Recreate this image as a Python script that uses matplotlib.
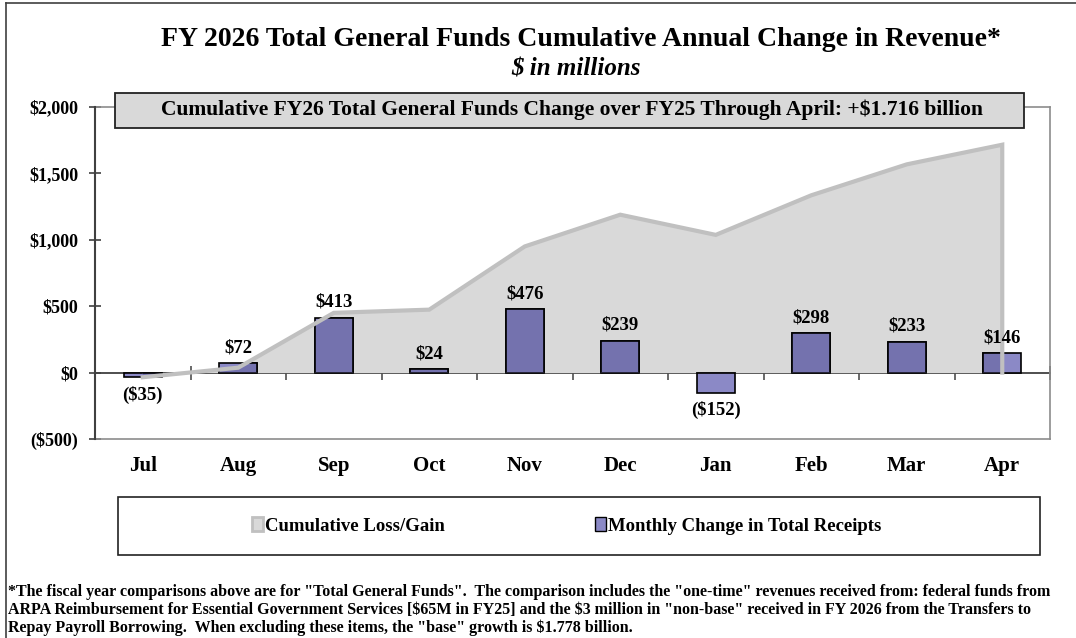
import numpy as np
import matplotlib
matplotlib.use("Agg")
import matplotlib.pyplot as plt
from matplotlib.patches import Rectangle, Patch
from matplotlib.lines import Line2D

# ---- data ----
months = ["Jul", "Aug", "Sep", "Oct", "Nov", "Dec", "Jan", "Feb", "Mar", "Apr"]
monthly_change = [-35, 72, 413, 24, 476, 239, -152, 298, 233, 146]
cumulative = [-35, 37, 450, 474, 950, 1189, 1037, 1335, 1568, 1716]
yticks = [-500, 0, 500, 1000, 1500, 2000]
ytick_labels = ["($500)", "$0", "$500", "$1,000", "$1,500", "$2,000"]

title = "FY 2026 Total General Funds Cumulative Annual Change in Revenue*"
subtitle = "$ in millions"
banner = "Cumulative FY26 Total General Funds Change over FY25 Through April: +$1.716 billion"
footnote = ('*The fiscal year comparisons above are for "Total General Funds".  The comparison includes the "one-time" revenues received from: federal funds from\n'
            'ARPA Reimbursement for Essential Government Services [$65M in FY25] and the $3 million in "non-base" received in FY 2026 from the Transfers to\n'
            'Repay Payroll Borrowing.  When excluding these items, the "base" growth is $1.778 billion.')

plt.rcParams["font.family"] = ["Liberation Serif", "DejaVu Serif"]
plt.rcParams["font.weight"] = "bold"
plt.rcParams["text.parse_math"] = False

W, H = 1076, 638
fig = plt.figure(figsize=(W / 100, H / 100), dpi=100)

def fx(px):
    return px / W

def fy(py):
    return 1 - py / H

ax = fig.add_axes([fx(95), fy(439), fx(1050) - fx(95), fy(107) - fy(439)])
x = np.arange(len(months))

light_bar = "#8B89C6"
dark_bar = "#7472AE"
area_col = "#D9D9D9"
area_line = "#C0C0C0"

# area
area = ax.fill_between(x, cumulative, 0, color=area_col, lw=0, zorder=1)
clip_path = area.get_paths()[0]

# bars (light, outside area; darker where covered by area)
bw = 0.4
ax.bar(x, monthly_change, width=bw, color=light_bar, edgecolor="black", lw=1.2, zorder=2)
dark = ax.bar(x, monthly_change, width=bw, color=dark_bar, edgecolor="black", lw=1.2, zorder=3)
for b in dark:
    b.set_clip_path(clip_path, ax.transData)

# area outline
ax.plot(np.r_[x, x[-1]], np.r_[cumulative, 0], color=area_line, lw=3, zorder=4,
        solid_joinstyle="miter")

# data labels
for xi, v in zip(x, monthly_change):
    lab = f"${v:,}" if v >= 0 else f"(${-v:,})"
    if v >= 0:
        ax.annotate(lab, (xi, v), xytext=(0, 5), textcoords="offset points",
                    ha="center", va="bottom", fontsize=13.5, fontweight="bold", zorder=6)
    else:
        ax.annotate(lab, (xi, v), xytext=(0, -6), textcoords="offset points",
                    ha="center", va="top", fontsize=13.5, fontweight="bold", zorder=6)

ax.set_xlim(-0.5, len(months) - 0.5)
ax.set_ylim(-500, 2000)
ax.set_yticks(yticks)
ax.set_yticklabels(ytick_labels, fontsize=13, fontweight="bold")
ax.tick_params(axis="y", direction="inout", length=8, width=1.2, color="#404040", pad=8)
ax.set_xticks(x)
ax.set_xticklabels(months, fontsize=15, fontweight="bold")
ax.tick_params(axis="x", length=0, pad=12)

for s in ["top", "right", "bottom"]:
    ax.spines[s].set_color("#8C8C8C")
    ax.spines[s].set_linewidth(1.2)
ax.spines["left"].set_color("#404040")
ax.spines["left"].set_linewidth(1.5)
ax.spines["left"].set_zorder(5)

# zero axis with category-boundary ticks
sec = ax.secondary_xaxis(500 / 2500)
sec.set_xticks(np.arange(-0.5, len(months), 1.0))
sec.set_xticklabels([])
sec.tick_params(axis="x", direction="inout", length=10, width=1.1, color="#404040")
sec.spines["bottom"].set_color("#404040")
sec.spines["bottom"].set_linewidth(1.3)

# titles
fig.text(fx(581), fy(39), title, ha="center", va="center", fontsize=20, fontweight="bold")
fig.text(fx(576), fy(69), subtitle, ha="center", va="center", fontsize=18,
         fontweight="bold", fontstyle="italic")

# banner
fig.patches.append(Rectangle((fx(115), fy(128)), fx(1024) - fx(115), fy(93) - fy(128),
                             transform=fig.transFigure, facecolor=area_col,
                             edgecolor="#222222", lw=1.3, zorder=10))
fig.text(fx(572), fy(110), banner, ha="center", va="center", fontsize=15.5,
         fontweight="bold", zorder=11)

# legend box
fig.patches.append(Rectangle((fx(118), fy(555)), fx(1040) - fx(118), fy(497) - fy(555),
                             transform=fig.transFigure, facecolor="white",
                             edgecolor="#222222", lw=1.2, zorder=1))
handles = [Patch(facecolor=area_col, edgecolor=area_line, lw=2),
           Patch(facecolor=light_bar, edgecolor="black", lw=1)]
fig.legend(handles, ["Cumulative Loss/Gain", "Monthly Change in Total Receipts"],
           loc="center", bbox_to_anchor=(fx(567), fy(526)), ncol=2, frameon=False,
           handlelength=0.55, handleheight=0.75, handletextpad=0.15,
           columnspacing=8.0, prop={"weight": "bold", "size": 13.5})

# footnote
fig.text(fx(8), fy(584), footnote, ha="left", va="top", fontsize=11.5,
         fontweight="bold", linespacing=1.14)

# outer frame (top and left)
fig.add_artist(Line2D([fx(6), fx(6)], [0, fy(3)], transform=fig.transFigure,
                      color="#404040", lw=1.2))
fig.add_artist(Line2D([fx(6), 1], [fy(3), fy(3)], transform=fig.transFigure,
                      color="#404040", lw=1.2))

fig.savefig("out.png", dpi=100)
